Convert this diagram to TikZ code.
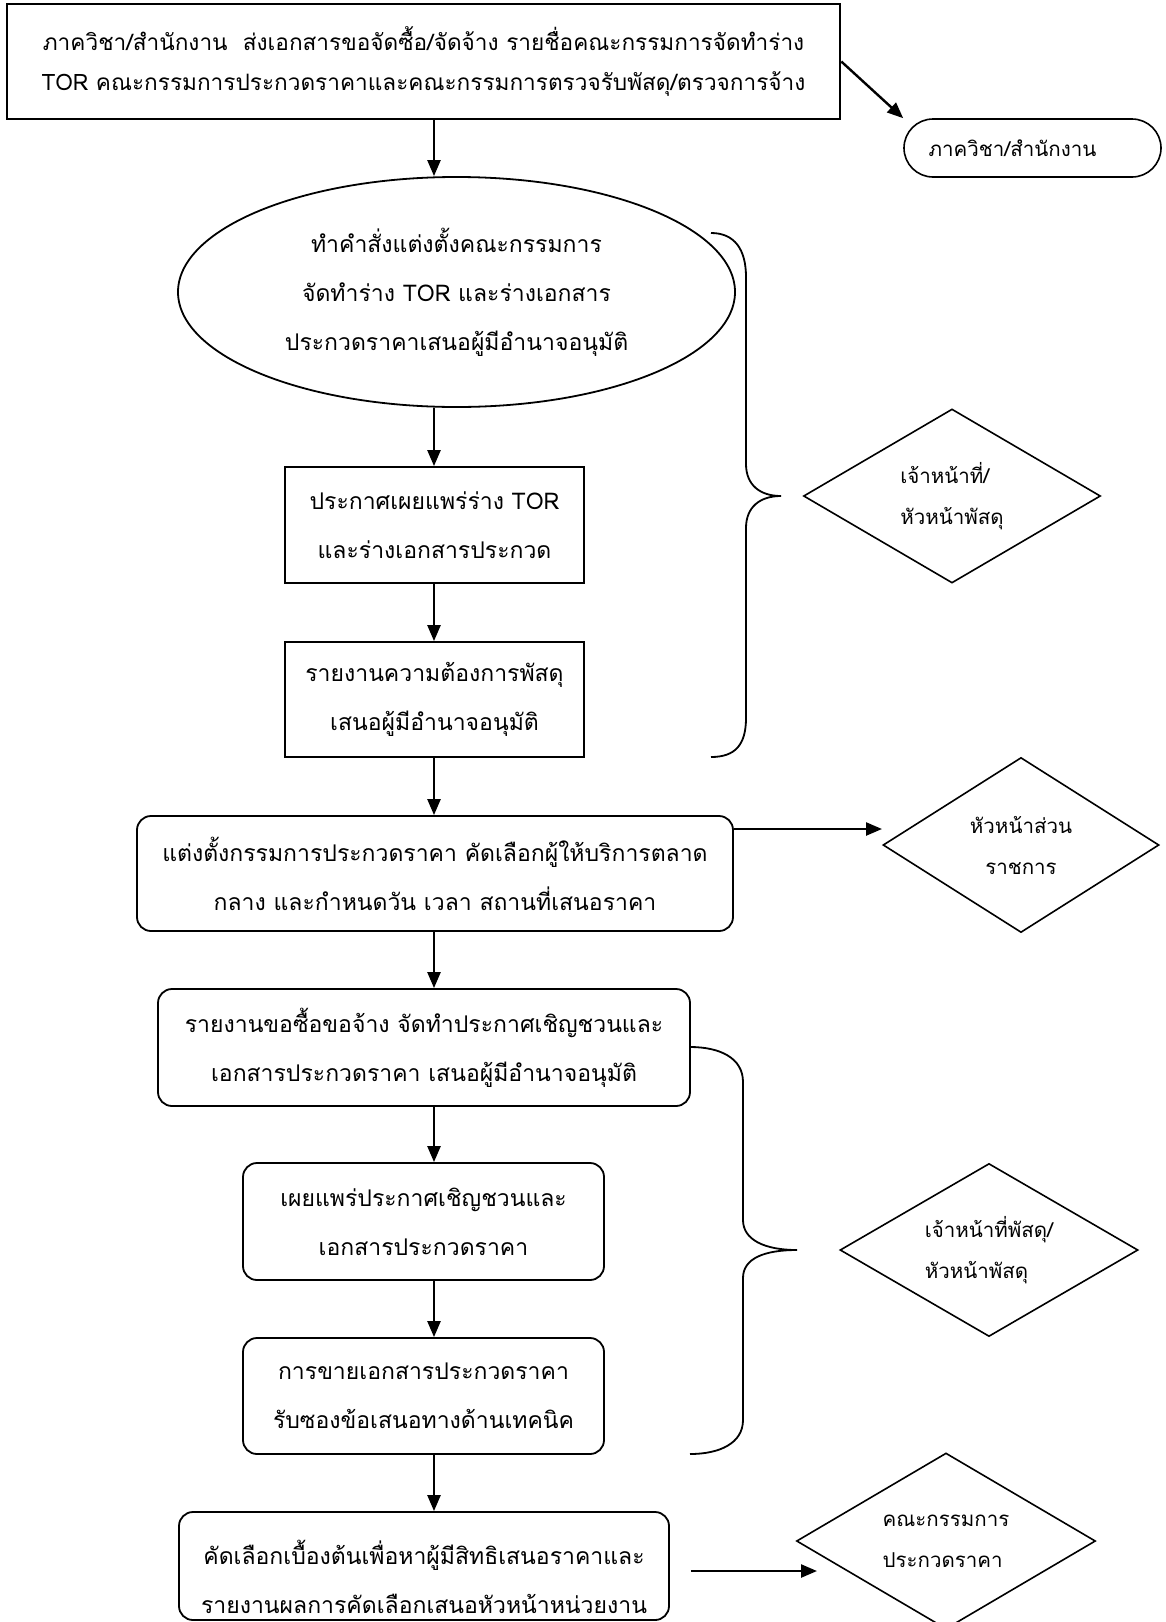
\documentclass[tikz,border=0pt]{standalone}
\usepackage{fontspec}
\newfontfamily\thai[Script=Thai]{Loma}
\usetikzlibrary{arrows.meta,shapes.geometric}
\newcommand\bfnt{\thai\fontsize{23}{49}\selectfont}
\newcommand\tfnt{\thai\fontsize{22.6}{40}\selectfont}
\newcommand\dfnt{\thai\fontsize{20.5}{41}\selectfont}
\begin{document}
\begin{tikzpicture}[x=1pt,y=-1pt]
\tikzset{
  box/.style={draw, line width=1.8pt, inner sep=0pt, align=center, font=\bfnt},
  rbox/.style={box, rounded corners=14pt},
  dia/.style={draw, diamond, shape aspect=1.7, line width=1.6pt, inner sep=0pt, align=left, font=\dfnt},
  arr/.style={line width=2.4pt, -{Triangle[length=16pt,width=13pt]}},
  bracel/.style={line width=1.8pt}
}
\path[use as bounding box, fill=white] (0,0) rectangle (1165,1622);
\coordinate (ax) at (434,0);

% top box and pill
\node[box, line width=2.6pt, minimum width=833pt, minimum height=115pt, font=\tfnt] (top) at (423.5,61.5)
  {ภาควิชา/สำนักงาน\ \ ส่งเอกสารขอจัดซื้อ/จัดจ้าง รายชื่อคณะกรรมการจัดทำร่าง\\TOR คณะกรรมการประกวดราคาและคณะกรรมการตรวจรับพัสดุ/ตรวจการจ้าง};
\node[box, rounded corners=29pt, line width=1.6pt, minimum width=257pt, minimum height=58pt, font=\dfnt] (pill) at (1032.5,148)
  {ภาควิชา/สำนักงาน\hspace*{40pt}};
\draw[arr] (top.east) -- (pill.north west);

% ellipse
\node[box, ellipse, minimum width=557pt, minimum height=230pt] (ell) at (456.5,292)
  {ทำคำสั่งแต่งตั้งคณะกรรมการ\\จัดทำร่าง TOR และร่างเอกสาร\\ประกวดราคาเสนอผู้มีอำนาจอนุมัติ};
\draw[arr] (top.south -| ax) -- (ell.north -| ax);

% boxes 2,3
\node[box, minimum width=299pt, minimum height=116pt] (b2) at (434.5,525)
  {ประกาศเผยแพร่ร่าง TOR\\และร่างเอกสารประกวด};
\node[box, minimum width=299pt, minimum height=115pt] (b3) at (434.5,699.5)
  {รายงานความต้องการพัสดุ\\เสนอผู้มีอำนาจอนุมัติ};
\draw[arr] (ell.south -| ax) -- (b2.north -| ax);
\draw[arr] (b2.south -| ax) -- (b3.north -| ax);

% brace 1 and diamond 1
\draw[bracel] (711,233) .. controls (735,233) and (746,250) .. (746,277) -- (746,464)
  .. controls (746,485) and (760,496) .. (781,496)
  .. controls (760,496) and (746,507) .. (746,528) -- (746,718)
  .. controls (746,745) and (735,757) .. (711,757);
\node[dia, minimum width=297pt, minimum height=174pt] (d1) at (952,496)
  {เจ้าหน้าที่/\\หัวหน้าพัสดุ};

% box 4 and diamond 2
\node[rbox, minimum width=596pt, minimum height=115pt] (b4) at (435,873.5)
  {แต่งตั้งกรรมการประกวดราคา คัดเลือกผู้ให้บริการตลาด\\กลาง และกำหนดวัน เวลา สถานที่เสนอราคา};
\draw[arr] (b3.south -| ax) -- (b4.north -| ax);
\node[dia, align=center, minimum width=276pt, minimum height=175pt] (d2) at (1021,845)
  {หัวหน้าส่วน\\ราชการ};
\coordinate (d2tip) at (882,829);
\draw[arr] (b4.east |- d2tip) -- (d2tip);

% box 5, 6, 7
\node[rbox, minimum width=532pt, minimum height=117pt] (b5) at (424,1047.5)
  {รายงานขอซื้อขอจ้าง จัดทำประกาศเชิญชวนและ\\เอกสารประกวดราคา เสนอผู้มีอำนาจอนุมัติ};
\draw[arr] (b4.south -| ax) -- (b5.north -| ax);
\node[rbox, minimum width=361pt, minimum height=117pt] (b6) at (423.5,1221.5)
  {เผยแพร่ประกาศเชิญชวนและ\\เอกสารประกวดราคา};
\draw[arr] (b5.south -| ax) -- (b6.north -| ax);
\node[rbox, minimum width=361pt, minimum height=116pt] (b7) at (423.5,1396)
  {การขายเอกสารประกวดราคา\\รับซองข้อเสนอทางด้านเทคนิค};
\draw[arr] (b6.south -| ax) -- (b7.north -| ax);

% brace 2 and diamond 3
\draw[bracel] (690,1047) .. controls (720,1047) and (743,1058) .. (743,1082) -- (743,1220)
  .. controls (743,1240) and (765,1250) .. (797,1250)
  .. controls (765,1250) and (743,1258) .. (743,1278) -- (743,1420)
  .. controls (743,1443) and (720,1454) .. (690,1454);
\node[dia, minimum width=298pt, minimum height=173pt] (d3) at (989,1250)
  {เจ้าหน้าที่พัสดุ/\\หัวหน้าพัสดุ};

% box 8 and diamond 4
\node[rbox, minimum width=490pt, minimum height=108pt] (b8) at (424,1566)
  {\rule{0pt}{46pt}คัดเลือกเบื้องต้นเพื่อหาผู้มีสิทธิเสนอราคาและ\\รายงานผลการคัดเลือกเสนอหัวหน้าหน่วยงาน};
\draw[arr] (b7.south -| ax) -- (b8.north -| ax);
\node[dia, minimum width=299pt, minimum height=176pt] (d4) at (946,1541)
  {คณะกรรมการ\\ประกวดราคา};
\coordinate (d4tip) at (817,1571);
\draw[arr] ([xshift=21pt]b8.east |- d4tip) -- (d4tip);
\end{tikzpicture}
\end{document}
